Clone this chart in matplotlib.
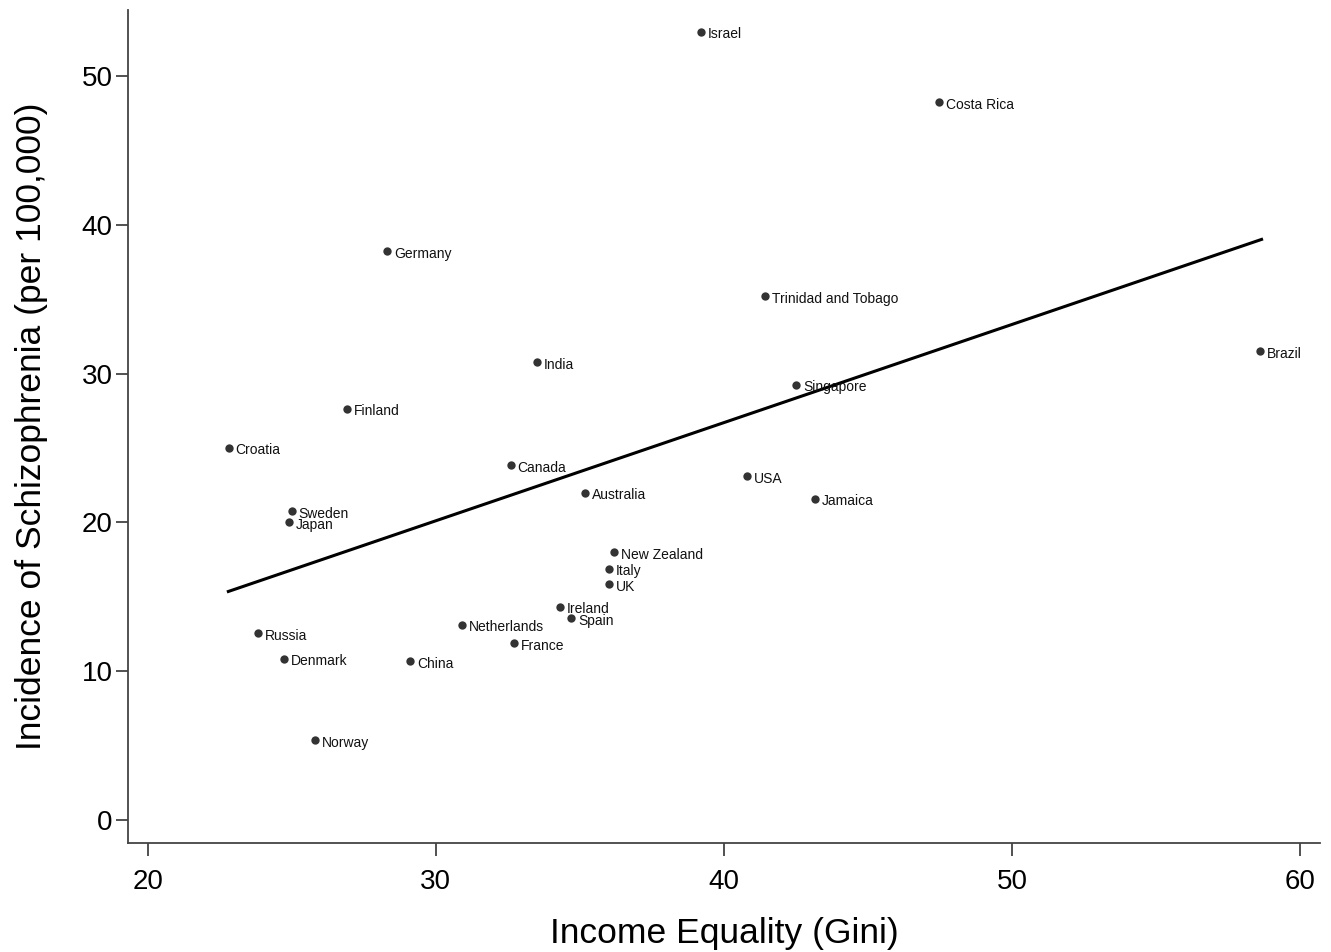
import numpy as np
import matplotlib
matplotlib.use('Agg')
import matplotlib.pyplot as plt

plt.rcParams['font.family'] = ['Liberation Sans', 'DejaVu Sans']

countries = ['Israel', 'Costa Rica', 'Germany', 'Trinidad and Tobago', 'Brazil', 'India',
             'Singapore', 'Finland', 'Croatia', 'Canada', 'USA', 'Australia', 'Jamaica',
             'Sweden', 'Japan', 'New Zealand', 'Italy', 'UK', 'Ireland', 'Spain',
             'Netherlands', 'Russia', 'France', 'Denmark', 'China', 'Norway']
gini = [39.2, 47.47, 28.3, 41.42, 58.61, 33.51,
        42.5, 26.91, 22.81, 32.6, 40.8, 35.17, 43.16,
        25.0, 24.9, 36.18, 36.0, 36.0, 34.3, 34.69,
        30.9, 23.82, 32.71, 24.72, 29.1, 25.8]
incidence = [52.95, 48.19, 38.19, 35.17, 31.48, 30.74,
             29.26, 27.65, 25.03, 23.83, 23.09, 22.01, 21.61,
             20.74, 20.0, 17.99, 16.91, 15.84, 14.36, 13.56,
             13.15, 12.55, 11.88, 10.87, 10.67, 5.37]

# fitted line endpoints as shown
fit_x = [22.8, 58.65]
fit_y = [15.37, 39.0]

fig, ax = plt.subplots(figsize=(13.31, 9.52), dpi=100)
fig.subplots_adjust(left=0.096, right=0.992, top=0.99, bottom=0.115)

ax.scatter(gini, incidence, s=36, color='#333333', zorder=3, linewidths=0)
for name, x, y in zip(countries, gini, incidence):
    ax.annotate(name, (x, y), xytext=(5, -1.5), textcoords='offset points',
                va='center', ha='left', fontsize=10, color='#111111')

ax.plot(fit_x, fit_y, color='black', lw=2.2, zorder=2)

ax.set_xlim(19.31, 60.69)
ax.set_ylim(-1.48, 54.43)
ax.set_xticks([20, 30, 40, 50, 60])
ax.set_yticks([0, 10, 20, 30, 40, 50])

for s in ['top', 'right']:
    ax.spines[s].set_visible(False)
for s in ['left', 'bottom']:
    ax.spines[s].set_color('#444444')
    ax.spines[s].set_linewidth(1.3)

ax.tick_params(axis='both', direction='out', length=9, width=1.2, color='#333333',
               labelsize=20, pad=2)
ax.tick_params(axis='x', pad=10)

ax.set_xlabel('Income Equality (Gini)', fontsize=25.5, labelpad=16)
ax.set_ylabel('Incidence of Schizophrenia (per 100,000)', fontsize=25.5, labelpad=24)

fig.savefig('out.png', dpi=100)
